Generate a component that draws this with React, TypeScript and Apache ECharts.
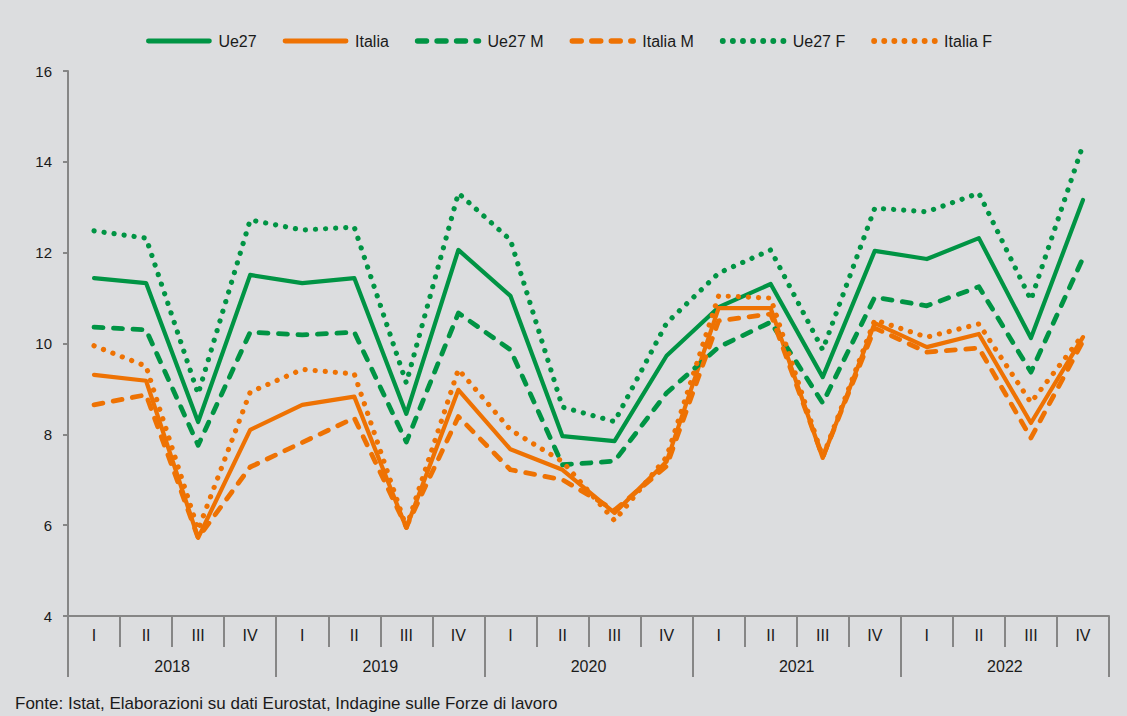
import React, { useEffect, useRef } from "react";
import * as echarts from "echarts";

const quarters = ["I", "II", "III", "IV", "I", "II", "III", "IV", "I", "II", "III", "IV", "I", "II", "III", "IV", "I", "II", "III", "IV"];
const years = ["2018", "2019", "2020", "2021", "2022"];

const ue27 = [11.44, 11.33, 8.27, 11.51, 11.33, 11.44, 8.45, 12.06, 11.05, 7.96, 7.85, 9.73, 10.8, 11.31, 9.26, 12.04, 11.86, 12.32, 10.12, 13.16];
const italia = [9.31, 9.18, 5.72, 8.1, 8.65, 8.83, 5.94, 8.98, 7.67, 7.22, 6.27, 7.4, 10.78, 10.78, 7.48, 10.45, 9.92, 10.21, 8.25, 10.14];
const ue27M = [10.36, 10.3, 7.76, 10.25, 10.19, 10.25, 7.83, 10.67, 9.86, 7.33, 7.41, 8.91, 9.92, 10.47, 8.69, 11.02, 10.83, 11.25, 9.37, 11.88];
const italiaM = [8.65, 8.87, 5.72, 7.28, 7.82, 8.36, 5.96, 8.39, 7.22, 7.0, 6.33, 7.3, 10.5, 10.65, 7.5, 10.34, 9.81, 9.9, 7.92, 10.05];
const ue27F = [12.48, 12.32, 8.89, 12.72, 12.5, 12.56, 9.13, 13.31, 12.28, 8.6, 8.28, 10.45, 11.55, 12.06, 9.86, 12.98, 12.9, 13.31, 10.96, 14.37];
const italiaF = [9.95, 9.5, 5.9, 8.93, 9.43, 9.33, 5.95, 9.43, 8.1, 7.4, 6.1, 7.5, 11.05, 11.0, 7.5, 10.52, 10.14, 10.43, 8.7, 10.19];

const seriesNames = ["Ue27", "Italia", "Ue27 M", "Italia M", "Ue27 F", "Italia F"];
const seriesData = [ue27, italia, ue27M, italiaM, ue27F, italiaF];

const GREEN = "#009444";
const ORANGE = "#ee7203";
const AXIS = "#868686";
const BG = "#dcdddf";
const TXT = "#1a1a1a";

export default function App() {
  const ref = useRef<HTMLDivElement>(null);

  useEffect(() => {
    document.body.style.margin = "0";
    document.body.style.background = BG;
    if (!ref.current) return;
    const chart = echarts.init(ref.current, null, { renderer: "svg" });
    const styles = [
      { color: GREEN, type: "solid", width: 4.2 },
      { color: ORANGE, type: "solid", width: 4.2 },
      { color: GREEN, type: [9, 10.5], width: 4.8 },
      { color: ORANGE, type: [9, 10.5], width: 4.8 },
      { color: GREEN, type: [0.1, 10], width: 5.2 },
      { color: ORANGE, type: [0.1, 10], width: 5.2 },
    ];
    chart.setOption({
      animation: false,
      backgroundColor: BG,
      textStyle: { fontFamily: "'Liberation Sans', Arial, sans-serif", color: TXT },
      legend: {
        left: 141,
        top: 28,
        itemWidth: 61,
        itemHeight: 14,
        itemGap: 26,
        data: seriesNames.map((name, i) => ({
          name,
          lineStyle: {
            width: styles[i].width + 0.6,
            type: styles[i].type,
            cap: "round",
            color: styles[i].color,
          },
        })),
        itemStyle: { opacity: 0 },
        textStyle: { fontSize: 16, color: TXT, padding: [0, 0, 0, 4] },
      },
      grid: { left: 68, right: 18, top: 71, bottom: 100 },
      xAxis: [
        {
          type: "category",
          data: quarters,
          position: "bottom",
          axisLine: { show: true, lineStyle: { color: AXIS, width: 2 } },
          axisTick: { show: true, interval: 0, length: 31, lineStyle: { color: AXIS, width: 2 } },
          axisLabel: { interval: 0, fontSize: 16, color: TXT, margin: 11 },
          splitLine: { show: false },
        },
        {
          type: "category",
          data: years,
          position: "bottom",
          axisLine: { show: false },
          axisTick: { show: true, interval: 0, length: 61, lineStyle: { color: AXIS, width: 2 } },
          axisLabel: { interval: 0, fontSize: 16, color: TXT, margin: 42 },
          splitLine: { show: false },
        },
      ],
      yAxis: {
        type: "value",
        min: 4,
        max: 16,
        interval: 2,
        axisLine: { show: true, lineStyle: { color: AXIS, width: 2 } },
        axisTick: { show: true, length: 5, lineStyle: { color: AXIS, width: 2 } },
        axisLabel: { fontSize: 15, color: TXT, margin: 16 },
        splitLine: { show: false },
      },
      graphic: [
        {
          type: "text",
          left: 15,
          top: 695,
          style: {
            text: "Fonte: Istat, Elaborazioni su dati Eurostat, Indagine sulle Forze di lavoro",
            fontSize: 17,
            fontFamily: "'Liberation Sans', Arial, sans-serif",
            fill: TXT,
          },
        },
      ],
      series: seriesNames.map((name, i) => ({
        name,
        type: "line",
        xAxisIndex: 0,
        data: seriesData[i],
        symbol: "none",
        color: styles[i].color,
        lineStyle: {
          color: styles[i].color,
          width: styles[i].width,
          type: styles[i].type,
          cap: "round",
          join: "round",
        },
        z: 2 + i,
      })),
    });
    return () => chart.dispose();
  }, []);

  return <div ref={ref} style={{ width: 1127, height: 716 }} />;
}
